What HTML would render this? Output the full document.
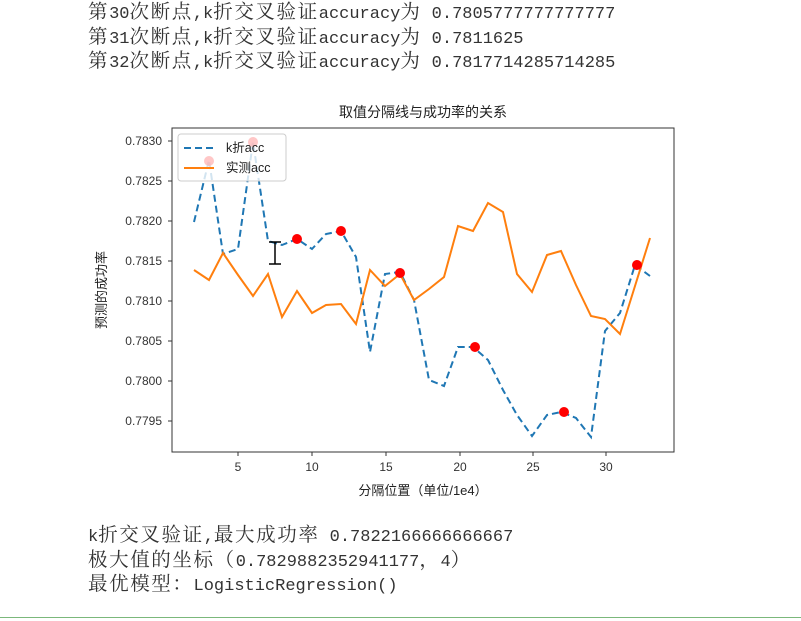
<!DOCTYPE html>
<html><head><meta charset="utf-8"><style>
body{margin:0;width:801px;height:621px;background:#fff;position:relative;overflow:hidden}
.t{position:absolute;left:88px;font:17px "Liberation Mono","Noto Serif CJK SC",monospace;color:#333;line-height:24.5px;white-space:pre}
.c{font-family:"Noto Serif CJK SC",serif;font-size:19.5px;line-height:10px;letter-spacing:1.6px}
</style></head><body>
<div class="t" style="top:3px"><span class="c">第</span>30<span class="c">次断点</span>,k<span class="c">折交叉验证</span>accuracy<span class="c">为</span> 0.7805777777777777
<span class="c">第</span>31<span class="c">次断点</span>,k<span class="c">折交叉验证</span>accuracy<span class="c">为</span> 0.7811625
<span class="c">第</span>32<span class="c">次断点</span>,k<span class="c">折交叉验证</span>accuracy<span class="c">为</span> 0.7817714285714285</div>
<svg width="801" height="621" style="position:absolute;left:0;top:0" font-family="Liberation Sans, Noto Sans CJK SC, sans-serif">
<text x="423" y="117" font-size="14" text-anchor="middle" fill="#222">取值分隔线与成功率的关系</text>
<rect x="172" y="128" width="502" height="324" fill="none" stroke="#333" stroke-width="1"/>
<g font-size="12" fill="#333" text-anchor="end">
<text x="162" y="145">0.7830</text><text x="162" y="185">0.7825</text><text x="162" y="225">0.7820</text><text x="162" y="265">0.7815</text><text x="162" y="305">0.7810</text><text x="162" y="345">0.7805</text><text x="162" y="385">0.7800</text><text x="162" y="425">0.7795</text>
</g>
<g stroke="#333"><line x1="168" x2="172" y1="141" y2="141"/><line x1="168" x2="172" y1="181" y2="181"/><line x1="168" x2="172" y1="221" y2="221"/><line x1="168" x2="172" y1="261" y2="261"/><line x1="168" x2="172" y1="301" y2="301"/><line x1="168" x2="172" y1="341" y2="341"/><line x1="168" x2="172" y1="381" y2="381"/><line x1="168" x2="172" y1="421" y2="421"/>
<line x1="238" x2="238" y1="452" y2="456"/><line x1="312" x2="312" y1="452" y2="456"/><line x1="386" x2="386" y1="452" y2="456"/><line x1="460" x2="460" y1="452" y2="456"/><line x1="533" x2="533" y1="452" y2="456"/><line x1="606" x2="606" y1="452" y2="456"/></g>
<g font-size="12" fill="#333" text-anchor="middle">
<text x="238" y="471">5</text><text x="312" y="471">10</text><text x="386" y="471">15</text><text x="460" y="471">20</text><text x="533" y="471">25</text><text x="606" y="471">30</text>
</g>
<text x="423" y="495" font-size="13" text-anchor="middle" fill="#222">分隔位置（单位/1e4）</text>
<text transform="translate(106,290) rotate(-90)" font-size="13" text-anchor="middle" fill="#222">预测的成功率</text>
<polyline fill="none" stroke="#1f77b4" stroke-width="2" stroke-dasharray="7,4" points="194,222 209,160 223,254 238,249 253,142 268,241 282,245 297,239 312,249 326,234 341,231 356,257 370,352 385,274 400,272 414,300 429,380 444,386 458,347 473,347 488,360 503,390 517,415 532,436 547,415 561,412 576,418 591,437 605,331 620,313 635,265 650,276"/>
<polyline fill="none" stroke="#ff7f0e" stroke-width="2" points="194,270 209,280 223,253 238,275 253,296 268,274 282,317 297,291 312,313 326,305 341,304 356,324 370,270 385,286 400,274 414,300 429,289 444,277 458,226 473,231 488,203 503,212 517,274 532,292 547,255 561,251 576,285 591,316 605,319 620,334 635,286 650,238"/>
<g fill="#ff0000"><circle cx="297" cy="239" r="5"/><circle cx="341" cy="231" r="5"/><circle cx="400" cy="273" r="5"/><circle cx="475" cy="347" r="5"/><circle cx="564" cy="412" r="5"/><circle cx="637" cy="265" r="5"/></g>
<rect x="178" y="134" width="108" height="47" rx="3" fill="#fff" fill-opacity="0.8" stroke="#ccc"/>
<g fill="#ffb0b0" opacity="0.7"><circle cx="209" cy="161" r="5"/><circle cx="253" cy="142" r="5"/></g>
<line x1="184" x2="214" y1="148" y2="148" stroke="#1f77b4" stroke-width="2" stroke-dasharray="7,4"/>
<line x1="184" x2="214" y1="168" y2="168" stroke="#ff7f0e" stroke-width="2"/>
<text x="226" y="152" font-size="12.5" fill="#222">k折acc</text>
<text x="226" y="172" font-size="12.5" fill="#222">实测acc</text>
<g stroke="#000" stroke-width="1.5"><line x1="275" x2="275" y1="242" y2="264"/><line x1="269" x2="281" y1="242" y2="242"/><line x1="269" x2="281" y1="264" y2="264"/></g>
<line x1="0" x2="801" y1="617.5" y2="617.5" stroke="#7bb87b" stroke-width="1"/>
</svg>
<div class="t" style="top:526px">k<span class="c">折交叉验证</span>,<span class="c">最大成功率</span> 0.7822166666666667
<span class="c">极大值的坐标（</span>0.7829882352941177<span class="c">，</span>4<span class="c">）</span>
<span class="c">最优模型：</span>LogisticRegression()</div>
</body></html>
